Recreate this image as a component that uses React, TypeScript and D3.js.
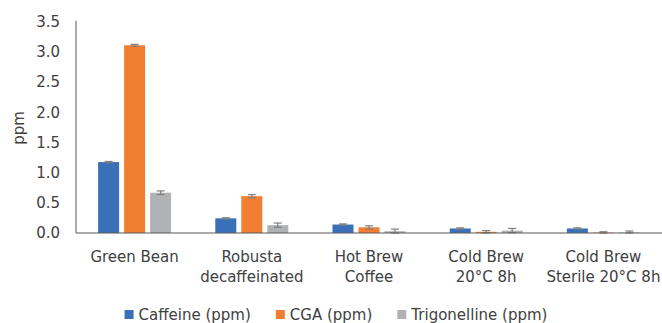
import React, { useEffect, useRef } from "react";
import * as d3 from "d3";

const categories: string[][] = [
  ["Green Bean"],
  ["Robusta", "decaffeinated"],
  ["Hot Brew", "Coffee"],
  ["Cold Brew", "20°C 8h"],
  ["Cold Brew", "Sterile 20°C 8h"],
];
const seriesNames = ["Caffeine (ppm)", "CGA (ppm)", "Trigonelline (ppm)"];
const seriesColors = ["#3A70B8", "#F27E32", "#B1B2B5"];
const caffeine = [1.175, 0.243, 0.14, 0.075, 0.075];
const cga = [3.11, 0.61, 0.094, 0.02, 0.006];
const trigonelline = [0.667, 0.13, 0.03, 0.04, 0.008];
const caffeineErr = [0.01, 0.01, 0.01, 0.01, 0.01];
const cgaErr = [0.015, 0.025, 0.025, 0.02, 0.015];
const trigoErr = [0.03, 0.035, 0.035, 0.035, 0.025];
const yTicks = [0, 0.5, 1.0, 1.5, 2.0, 2.5, 3.0, 3.5];

const W = 662;
const H = 323;
const FONT = "'DejaVu Sans', Verdana, sans-serif";

export default function App() {
  const ref = useRef<SVGSVGElement | null>(null);
  useEffect(() => {
    const svg = d3.select(ref.current);
    svg.selectAll("*").remove();
    const left = 76, right = 662, top = 21.7, bottom = 233;
    const values = [caffeine, cga, trigonelline];
    const errs = [caffeineErr, cgaErr, trigoErr];
    const x0 = d3.scaleBand<number>().domain(d3.range(categories.length)).range([left, right]).padding(0);
    const groupW = x0.bandwidth();
    const inner = 73;
    const x1 = d3.scaleBand<number>().domain([0, 1, 2])
      .range([(groupW - inner) / 2, (groupW + inner) / 2])
      .paddingInner(5 / 26).paddingOuter(0);
    const y = d3.scaleLinear().domain([0, 3.5]).range([bottom, top]);

    const g = svg.append("g");
    // bars
    values.forEach((vals, s) => {
      g.selectAll(null).data(vals).enter().append("rect")
        .attr("x", (_, i) => x0(i)! + x1(s)!)
        .attr("y", (d) => y(d))
        .attr("width", x1.bandwidth())
        .attr("height", (d) => bottom - y(d))
        .attr("fill", seriesColors[s]);
    });
    // error bars
    values.forEach((vals, s) => {
      vals.forEach((v, i) => {
        const cx = x0(i)! + x1(s)! + x1.bandwidth() / 2;
        const e = errs[s][i];
        const y1 = y(v + e), y2 = Math.min(y(Math.max(v - e, 0)), bottom);
        const eg = g.append("g").attr("stroke", "#7F7F7F").attr("stroke-width", 1.2);
        eg.append("line").attr("x1", cx).attr("x2", cx).attr("y1", y1).attr("y2", y2);
        eg.append("line").attr("x1", cx - 4).attr("x2", cx + 4).attr("y1", y1).attr("y2", y1);
        eg.append("line").attr("x1", cx - 4).attr("x2", cx + 4).attr("y1", y2).attr("y2", y2);
      });
    });
    // axes lines
    svg.append("line").attr("x1", left).attr("x2", left).attr("y1", top - 1).attr("y2", bottom)
      .attr("stroke", "#595959").attr("stroke-width", 1);
    svg.append("line").attr("x1", left).attr("x2", right).attr("y1", bottom).attr("y2", bottom)
      .attr("stroke", "#595959").attr("stroke-width", 1);
    // y tick labels
    svg.selectAll(null).data(yTicks).enter().append("text")
      .attr("x", 60).attr("y", (d) => y(d)).attr("dy", "0.36em")
      .attr("text-anchor", "end").attr("font-family", FONT).attr("font-size", 15)
      .attr("fill", "#404040").text((d) => d3.format(".1f")(d));
    // y label
    svg.append("text").attr("transform", "translate(24,128) rotate(-90)")
      .attr("text-anchor", "middle").attr("font-family", FONT).attr("font-size", 15)
      .attr("fill", "#404040").text("ppm");
    // category labels
    categories.forEach((lines, i) => {
      const cx = x0(i)! + groupW / 2;
      const t = svg.append("text").attr("text-anchor", "middle").attr("font-family", FONT)
        .attr("font-size", 15).attr("fill", "#404040");
      lines.forEach((ln, k) => {
        t.append("tspan").attr("x", cx).attr("y", 262 + k * 20).text(ln);
      });
    });
    // legend
    const lg = svg.append("g");
    let cursor = 0;
    const items: { g: any; w: number }[] = [];
    seriesNames.forEach((name, s) => {
      const ig = lg.append("g");
      ig.append("rect").attr("x", 0).attr("y", 310).attr("width", 9).attr("height", 9).attr("fill", seriesColors[s]);
      const t = ig.append("text").attr("x", 14).attr("y", 320).attr("font-family", FONT)
        .attr("font-size", 15).attr("fill", "#404040").text(name);
      const tw = (t.node() as SVGTextElement).getComputedTextLength();
      items.push({ g: ig, w: 14 + tw });
    });
    const gap = 25;
    const total = items.reduce((a, b) => a + b.w, 0) + gap * (items.length - 1);
    cursor = 336 - total / 2;
    items.forEach((it) => {
      it.g.attr("transform", `translate(${cursor},0)`);
      cursor += it.w + gap;
    });
  }, []);
  return (
    <svg ref={ref} width={W} height={H} style={{ position: "absolute", left: 0, top: 0, background: "#fff" }} />
  );
}
